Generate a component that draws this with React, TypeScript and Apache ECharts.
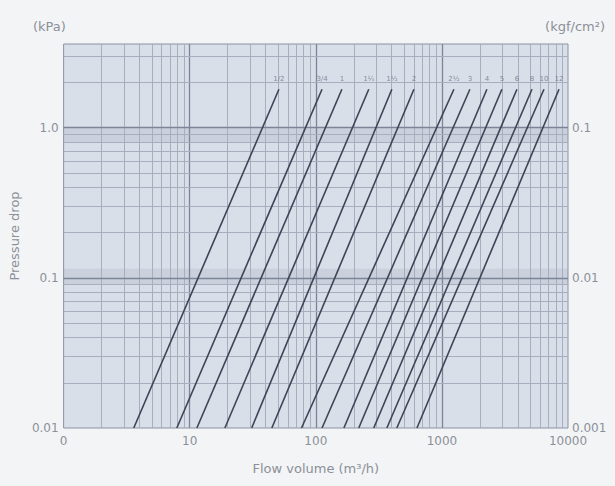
import React, { useEffect, useRef } from 'react';
import * as echarts from 'echarts';

// Pipe sizes (labels above each line)
const sizeLabels = ['1/2', '3/4', '1', '1¼', '1½', '2', '2½', '3', '4', '5', '6', '8', '10', '12'];
// Flow volume (m³/h) where each line meets the bottom (0.01 kPa)
const bottomFlow = [3.6, 7.9, 11.4, 19, 31, 44.8, 77, 112, 167, 219, 288, 366, 439, 634];
// Flow volume (m³/h) where each line ends at the top
const topFlow = [51, 112, 161, 263, 401, 600, 1245, 1667, 2275, 2992, 3937, 5180, 6450, 8490];
const bottomDrop = 0.01;
const topDrop = 1.8;

// Axis ticks
const xTicks = [1, 10, 100, 1000, 10000];
const xTickLabels = ['0', '10', '100', '1000', '10000'];
const yTicks = [0.01, 0.1, 1];
const yLeftLabels = ['0.01', '0.1', '1.0'];
const yRightLabels = ['0.001', '0.01', '0.1'];

// Grid decades
const xDecades = [1, 10, 100, 1000];
const yDecades = [0.01, 0.1, 1];
const multipliers = [1, 2, 3, 4, 5, 6, 7, 8, 9];
const xMin = 1, xMax = 10000, yMin = 0.01, yMax = 3.6;

const pick = (v: number, ticks: number[], labels: string[]) => {
  for (let i = 0; i < ticks.length; i++) {
    if (Math.abs(Math.log10(v) - Math.log10(ticks[i])) < 1e-6) return labels[i];
  }
  return '';
};

export default function App() {
  const ref = useRef<HTMLDivElement>(null);
  useEffect(() => {
    if (!ref.current) return;
    const chart = echarts.init(ref.current, undefined, { renderer: 'svg' });
    const minorColor = '#a7afbf';
    const majorColor = '#7c8597';
    const vLines: any[] = [];
    xDecades.forEach((d) =>
      multipliers.forEach((m) => {
        const v = d * m;
        if (v > xMin && v < xMax)
          vLines.push({ xAxis: v, lineStyle: { color: m === 1 ? majorColor : minorColor, width: m === 1 ? 1.3 : 1, type: 'solid' } });
      })
    );
    const hLines: any[] = [];
    yDecades.forEach((d) =>
      multipliers.forEach((m) => {
        const v = d * m;
        if (v > yMin * 1.0001 && v < yMax)
          hLines.push({ yAxis: v, lineStyle: { color: m === 1 ? majorColor : minorColor, width: m === 1 ? 1.3 : 1, type: 'solid' } });
      })
    );
    const textColor = '#8b9099';
    const font = 'DejaVu Sans';
    const curves = sizeLabels.map((name, i) => ({
      name,
      type: 'line',
      z: 10,
      symbol: 'none',
      silent: true,
      data: [
        [bottomFlow[i], bottomDrop],
        [topFlow[i], topDrop],
      ],
      lineStyle: { color: '#3e4455', width: 1.6 },
    }));
    chart.setOption({
      animation: false,
      backgroundColor: '#f3f4f6',
      grid: {
        left: 62,
        right: 47,
        top: 44,
        bottom: 58,
        show: true,
        backgroundColor: '#d9dfe9',
        borderColor: '#8a92a3',
        borderWidth: 1,
      },
      xAxis: {
        type: 'log',
        logBase: 10,
        min: xMin,
        max: xMax,
        name: 'Flow volume (m³/h)',
        nameLocation: 'middle',
        nameGap: 34,
        nameTextStyle: { color: textColor, fontSize: 13, fontFamily: font },
        axisLine: { show: false },
        axisTick: { show: false },
        splitLine: { show: false },
        axisLabel: {
          color: textColor,
          fontSize: 12,
          fontFamily: font,
          margin: 7,
          formatter: (v: number) => pick(v, xTicks, xTickLabels),
        },
      },
      yAxis: [
        {
          type: 'log',
          logBase: 10,
          min: yMin,
          max: yMax,
          name: 'Pressure drop',
          nameLocation: 'middle',
          nameGap: 38,
          nameRotate: 90,
          nameTextStyle: { color: textColor, fontSize: 13, fontFamily: font },
          axisLine: { show: false },
          axisTick: { show: false },
          splitLine: { show: false },
          axisLabel: {
            color: textColor,
            fontSize: 12,
            fontFamily: font,
            margin: 5,
            formatter: (v: number) => pick(v, yTicks, yLeftLabels),
          },
        },
        {
          type: 'log',
          logBase: 10,
          min: yMin,
          max: yMax,
          position: 'right',
          axisLine: { show: false },
          axisTick: { show: false },
          splitLine: { show: false },
          axisLabel: {
            color: textColor,
            fontSize: 12,
            fontFamily: font,
            margin: 4,
            formatter: (v: number) => pick(v, yTicks, yRightLabels),
          },
        },
      ],
      graphic: [
        { type: 'text', left: 33, top: 20, style: { text: '(kPa)', fill: textColor, fontSize: 13, fontFamily: font } },
        { type: 'text', right: 10, top: 20, style: { text: '(kgf/cm²)', fill: textColor, fontSize: 13, fontFamily: font } },
      ],
      series: [
        {
          type: 'line',
          z: 1,
          silent: true,
          symbol: 'none',
          data: [[xMin, yMin]],
          lineStyle: { opacity: 0 },
          markLine: {
            silent: true,
            symbol: ['none', 'none'],
            label: { show: false },
            animation: false,
            data: [...vLines, ...hLines],
          },
          markArea: {
            silent: true,
            itemStyle: { color: 'rgba(110,120,145,0.14)' },
            data: [
              [{ yAxis: 0.8 }, { yAxis: 1.0 }],
              [{ yAxis: 0.09 }, { yAxis: 0.115 }],
            ],
          },
        },
        ...curves,
        {
          type: 'scatter',
          z: 11,
          silent: true,
          symbolSize: 0,
          data: topFlow.map((q) => [q, topDrop]),
          label: {
            show: true,
            position: 'top',
            distance: 7,
            color: '#6c7281',
            fontSize: 7,
            fontFamily: font,
            formatter: (p: any) => sizeLabels[p.dataIndex],
          },
        },
      ],
    });
    return () => chart.dispose();
  }, []);
  return <div ref={ref} style={{ position: 'fixed', left: 0, top: 0, width: 615, height: 486 }} />;
}
